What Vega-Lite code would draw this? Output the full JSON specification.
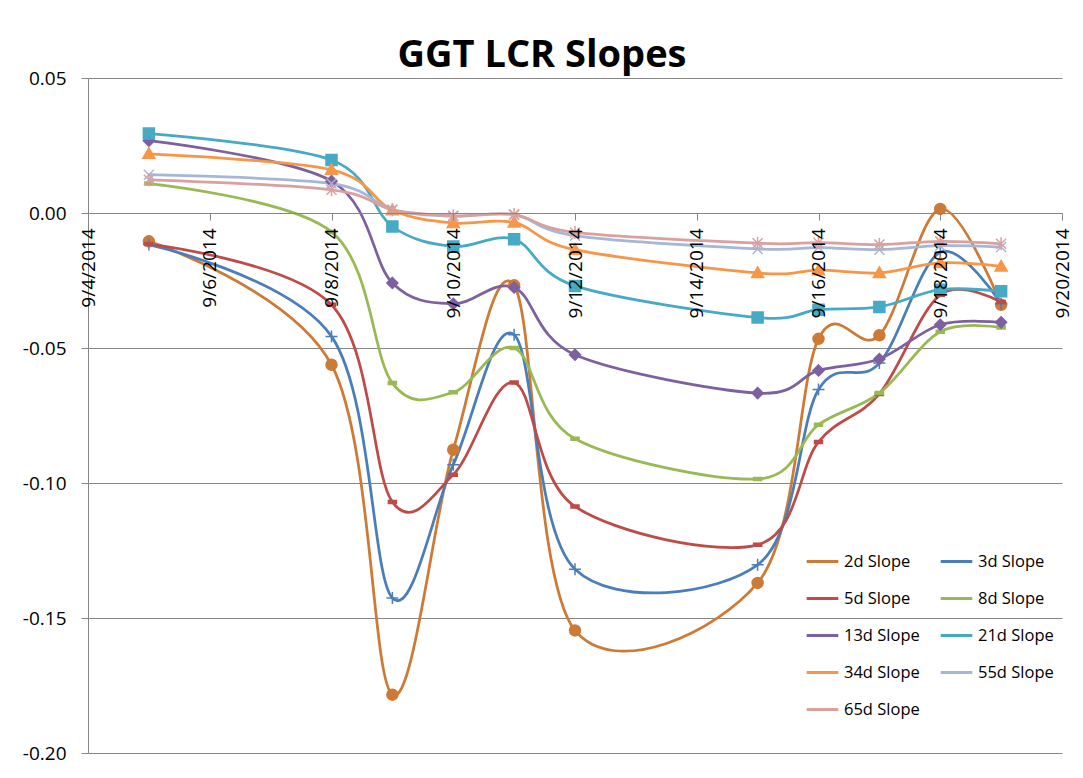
{
  "$schema": "https://vega.github.io/schema/vega-lite/v6.json",
  "autosize": "none",
  "width": 974,
  "height": 675,
  "padding": {"left": 88, "top": 78, "right": 21, "bottom": 25},
  "background": "white",
  "title": {"text": "GGT LCR Slopes", "font": "Open Sans", "fontSize": 38, "fontWeight": "bold", "color": "black", "anchor": "middle", "dx": -33, "offset": -6},
  "data": {"values": [
    {"date": "2014-09-05", "series": "2d Slope", "value": -0.0105},
    {"date": "2014-09-08", "series": "2d Slope", "value": -0.0562},
    {"date": "2014-09-09", "series": "2d Slope", "value": -0.1784},
    {"date": "2014-09-10", "series": "2d Slope", "value": -0.0877},
    {"date": "2014-09-11", "series": "2d Slope", "value": -0.0268},
    {"date": "2014-09-12", "series": "2d Slope", "value": -0.1546},
    {"date": "2014-09-15", "series": "2d Slope", "value": -0.1370},
    {"date": "2014-09-16", "series": "2d Slope", "value": -0.0466},
    {"date": "2014-09-17", "series": "2d Slope", "value": -0.0453},
    {"date": "2014-09-18", "series": "2d Slope", "value": 0.0015},
    {"date": "2014-09-19", "series": "2d Slope", "value": -0.0340},
    {"date": "2014-09-05", "series": "3d Slope", "value": -0.0117},
    {"date": "2014-09-08", "series": "3d Slope", "value": -0.0457},
    {"date": "2014-09-09", "series": "3d Slope", "value": -0.1426},
    {"date": "2014-09-10", "series": "3d Slope", "value": -0.0932},
    {"date": "2014-09-11", "series": "3d Slope", "value": -0.0451},
    {"date": "2014-09-12", "series": "3d Slope", "value": -0.1319},
    {"date": "2014-09-15", "series": "3d Slope", "value": -0.1303},
    {"date": "2014-09-16", "series": "3d Slope", "value": -0.0654},
    {"date": "2014-09-17", "series": "3d Slope", "value": -0.0556},
    {"date": "2014-09-18", "series": "3d Slope", "value": -0.0145},
    {"date": "2014-09-19", "series": "3d Slope", "value": -0.0336},
    {"date": "2014-09-05", "series": "5d Slope", "value": -0.0115},
    {"date": "2014-09-08", "series": "5d Slope", "value": -0.0340},
    {"date": "2014-09-09", "series": "5d Slope", "value": -0.1070},
    {"date": "2014-09-10", "series": "5d Slope", "value": -0.0969},
    {"date": "2014-09-11", "series": "5d Slope", "value": -0.0628},
    {"date": "2014-09-12", "series": "5d Slope", "value": -0.1087},
    {"date": "2014-09-15", "series": "5d Slope", "value": -0.1229},
    {"date": "2014-09-16", "series": "5d Slope", "value": -0.0848},
    {"date": "2014-09-17", "series": "5d Slope", "value": -0.0670},
    {"date": "2014-09-18", "series": "5d Slope", "value": -0.0303},
    {"date": "2014-09-19", "series": "5d Slope", "value": -0.0330},
    {"date": "2014-09-05", "series": "8d Slope", "value": 0.0109},
    {"date": "2014-09-08", "series": "8d Slope", "value": -0.0070},
    {"date": "2014-09-09", "series": "8d Slope", "value": -0.0630},
    {"date": "2014-09-10", "series": "8d Slope", "value": -0.0664},
    {"date": "2014-09-11", "series": "8d Slope", "value": -0.0500},
    {"date": "2014-09-12", "series": "8d Slope", "value": -0.0836},
    {"date": "2014-09-15", "series": "8d Slope", "value": -0.0985},
    {"date": "2014-09-16", "series": "8d Slope", "value": -0.0784},
    {"date": "2014-09-17", "series": "8d Slope", "value": -0.0667},
    {"date": "2014-09-18", "series": "8d Slope", "value": -0.0440},
    {"date": "2014-09-19", "series": "8d Slope", "value": -0.0424},
    {"date": "2014-09-05", "series": "13d Slope", "value": 0.0268},
    {"date": "2014-09-08", "series": "13d Slope", "value": 0.0118},
    {"date": "2014-09-09", "series": "13d Slope", "value": -0.0259},
    {"date": "2014-09-10", "series": "13d Slope", "value": -0.0336},
    {"date": "2014-09-11", "series": "13d Slope", "value": -0.0276},
    {"date": "2014-09-12", "series": "13d Slope", "value": -0.0525},
    {"date": "2014-09-15", "series": "13d Slope", "value": -0.0667},
    {"date": "2014-09-16", "series": "13d Slope", "value": -0.0583},
    {"date": "2014-09-17", "series": "13d Slope", "value": -0.0541},
    {"date": "2014-09-18", "series": "13d Slope", "value": -0.0414},
    {"date": "2014-09-19", "series": "13d Slope", "value": -0.0405},
    {"date": "2014-09-05", "series": "21d Slope", "value": 0.0294},
    {"date": "2014-09-08", "series": "21d Slope", "value": 0.0196},
    {"date": "2014-09-09", "series": "21d Slope", "value": -0.0050},
    {"date": "2014-09-10", "series": "21d Slope", "value": -0.0124},
    {"date": "2014-09-11", "series": "21d Slope", "value": -0.0097},
    {"date": "2014-09-12", "series": "21d Slope", "value": -0.0270},
    {"date": "2014-09-15", "series": "21d Slope", "value": -0.0387},
    {"date": "2014-09-16", "series": "21d Slope", "value": -0.0358},
    {"date": "2014-09-17", "series": "21d Slope", "value": -0.0348},
    {"date": "2014-09-18", "series": "21d Slope", "value": -0.0284},
    {"date": "2014-09-19", "series": "21d Slope", "value": -0.0290},
    {"date": "2014-09-05", "series": "34d Slope", "value": 0.0219},
    {"date": "2014-09-08", "series": "34d Slope", "value": 0.0160},
    {"date": "2014-09-09", "series": "34d Slope", "value": 0.0010},
    {"date": "2014-09-10", "series": "34d Slope", "value": -0.0037},
    {"date": "2014-09-11", "series": "34d Slope", "value": -0.0035},
    {"date": "2014-09-12", "series": "34d Slope", "value": -0.0136},
    {"date": "2014-09-15", "series": "34d Slope", "value": -0.0222},
    {"date": "2014-09-16", "series": "34d Slope", "value": -0.0212},
    {"date": "2014-09-17", "series": "34d Slope", "value": -0.0222},
    {"date": "2014-09-18", "series": "34d Slope", "value": -0.0185},
    {"date": "2014-09-19", "series": "34d Slope", "value": -0.0198},
    {"date": "2014-09-05", "series": "55d Slope", "value": 0.0142},
    {"date": "2014-09-08", "series": "55d Slope", "value": 0.0109},
    {"date": "2014-09-09", "series": "55d Slope", "value": 0.0012},
    {"date": "2014-09-10", "series": "55d Slope", "value": -0.0012},
    {"date": "2014-09-11", "series": "55d Slope", "value": -0.0006},
    {"date": "2014-09-12", "series": "55d Slope", "value": -0.0084},
    {"date": "2014-09-15", "series": "55d Slope", "value": -0.0133},
    {"date": "2014-09-16", "series": "55d Slope", "value": -0.0128},
    {"date": "2014-09-17", "series": "55d Slope", "value": -0.0136},
    {"date": "2014-09-18", "series": "55d Slope", "value": -0.0121},
    {"date": "2014-09-19", "series": "55d Slope", "value": -0.0126},
    {"date": "2014-09-05", "series": "65d Slope", "value": 0.0123},
    {"date": "2014-09-08", "series": "65d Slope", "value": 0.0086},
    {"date": "2014-09-09", "series": "65d Slope", "value": 0.0012},
    {"date": "2014-09-10", "series": "65d Slope", "value": -0.0010},
    {"date": "2014-09-11", "series": "65d Slope", "value": -0.0006},
    {"date": "2014-09-12", "series": "65d Slope", "value": -0.0072},
    {"date": "2014-09-15", "series": "65d Slope", "value": -0.0112},
    {"date": "2014-09-16", "series": "65d Slope", "value": -0.0110},
    {"date": "2014-09-17", "series": "65d Slope", "value": -0.0117},
    {"date": "2014-09-18", "series": "65d Slope", "value": -0.0105},
    {"date": "2014-09-19", "series": "65d Slope", "value": -0.0114}
  ]},
  "encoding": {
    "x": {
      "field": "date", "type": "temporal",
      "scale": {"type": "utc", "domain": [{"year": 2014, "month": 9, "date": 4, "utc": true}, {"year": 2014, "month": 9, "date": 20, "utc": true}]},
      "axis": {
        "title": null, "orient": "bottom", "offset": -540, "zindex": 1,
        "values": [
          {"year": 2014, "month": 9, "date": 4, "utc": true},
          {"year": 2014, "month": 9, "date": 6, "utc": true},
          {"year": 2014, "month": 9, "date": 8, "utc": true},
          {"year": 2014, "month": 9, "date": 10, "utc": true},
          {"year": 2014, "month": 9, "date": 12, "utc": true},
          {"year": 2014, "month": 9, "date": 14, "utc": true},
          {"year": 2014, "month": 9, "date": 16, "utc": true},
          {"year": 2014, "month": 9, "date": 18, "utc": true},
          {"year": 2014, "month": 9, "date": 20, "utc": true}
        ],
        "labelExpr": "utcFormat(datum.value, '%-m/%-d/%Y')",
        "labelAngle": -90, "labelAlign": "right", "labelBaseline": "middle",
        "labelPadding": 8, "labelFontSize": 19, "labelFont": "Open Sans", "labelColor": "black",
        "labelOverlap": false, "labelBound": false, "labelFlush": false,
        "grid": false, "domain": true, "domainColor": "#868686", "domainWidth": 1,
        "ticks": true, "tickColor": "#868686", "tickSize": 7, "tickWidth": 1
      }
    },
    "y": {
      "field": "value", "type": "quantitative",
      "scale": {"domain": [-0.2, 0.05], "nice": false, "zero": false},
      "axis": {
        "title": null, "values": [-0.2, -0.15, -0.1, -0.05, 0, 0.05],
        "labelExpr": "replace(format(datum.value, '.2f'), '\u2212', '-')",
        "labelFontSize": 19, "labelFont": "Open Sans", "labelColor": "black", "labelPadding": 15,
        "grid": true, "gridColor": "#868686", "gridWidth": 1,
        "domain": true, "domainColor": "#868686", "domainWidth": 1,
        "ticks": true, "tickColor": "#868686", "tickSize": 7, "tickWidth": 1
      }
    }
  },
  "layer": [
    {
      "mark": {"type": "line", "interpolate": "cardinal", "strokeWidth": 2.75},
      "encoding": {
        "color": {"field": "series", "type": "nominal",
          "sort": ["2d Slope", "3d Slope", "5d Slope", "8d Slope", "13d Slope", "21d Slope", "34d Slope", "55d Slope", "65d Slope"],
          "scale": {"range": ["#CC7A35", "#4A7EBB", "#BE4B48", "#98B954", "#7D60A0", "#46AAC5", "#F79646", "#A5B6D6", "#D9A09E"]},
          "legend": {"symbolType": "stroke", "direction": "horizontal"}}
      }
    },
    {
      "mark": {"type": "point", "filled": true, "size": 100, "strokeWidth": 1.5, "opacity": 1},
      "encoding": {
        "fill": {"field": "series", "type": "nominal", "legend": null,
          "sort": ["2d Slope", "3d Slope", "5d Slope", "8d Slope", "13d Slope", "21d Slope", "34d Slope", "55d Slope", "65d Slope"],
          "scale": {"range": ["#CC7A35", "#4A7EBB", "#BE4B48", "#98B954", "#7D60A0", "#46AAC5", "#F79646", "#A5B6D6", "#D9A09E"]}},
        "stroke": {"field": "series", "type": "nominal", "legend": null,
          "sort": ["2d Slope", "3d Slope", "5d Slope", "8d Slope", "13d Slope", "21d Slope", "34d Slope", "55d Slope", "65d Slope"],
          "scale": {"range": ["#CC7A35", "#4A7EBB", "#BE4B48", "#98B954", "#7D60A0", "#46AAC5", "#F79646", "#A5B6D6", "#D9A09E"]}},
        "shape": {"field": "series", "type": "nominal", "legend": null,
          "sort": ["2d Slope", "3d Slope", "5d Slope", "8d Slope", "13d Slope", "21d Slope", "34d Slope", "55d Slope", "65d Slope"],
          "scale": {"range": [
                      "M-1.1,0C-1.1,-0.6075,-0.6075,-1.1,0,-1.1C0.6075,-1.1,1.1,-0.6075,1.1,0C1.1,0.6075,0.6075,1.1,0,1.1C-0.6075,1.1,-1.1,0.6075,-1.1,0Z",
                      "M-1.2,0H1.2M0,-1.2V1.2",
                      "M-0.8,-0.3H0.8V0.3H-0.8Z",
                      "M-0.8,-0.3H0.8V0.3H-0.8Z",
                      "M0,-1.1L1.1,0L0,1.1L-1.1,0Z",
                      "M-1.1,-1.1H1.1V1.1H-1.1Z",
                      "M0,-1.2L1.2,0.9H-1.2Z",
                      "M-1,-1L1,1M-1,1L1,-1",
                      "M-1,-1L1,1M-1,1L1,-1M0,-1.3V1.3"
                    ]}}
      }
    }
  ],
  "config": {
    "view": {"stroke": null},
    "font": "Open Sans",
    "legend": {
      "orient": "none", "legendX": 717, "legendY": 466, "columns": 2, "title": null,
      "labelFont": "Open Sans", "labelFontSize": 16.5, "labelColor": "black",
      "symbolSize": 1000, "symbolStrokeWidth": 3, "labelOffset": 4,
      "columnPadding": 14, "rowPadding": 11, "padding": 0
    }
  }
}
